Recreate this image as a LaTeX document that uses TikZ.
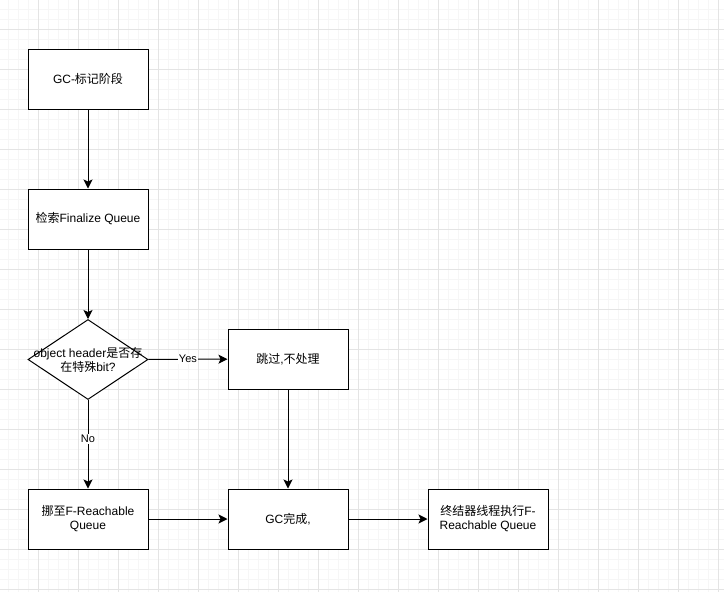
\documentclass[tikz,border=0pt]{standalone}
\usepackage{fontspec}
\setmainfont{Liberation Sans}
\newfontfamily\cjk{Noto Sans CJK SC}
\usetikzlibrary{shapes.geometric,arrows.meta}
\definecolor{gridminor}{HTML}{F6F6F6}
\definecolor{gridmajor}{HTML}{E4E4E4}
\tikzset{
  box/.style={draw=black, line width=1pt, fill=white, minimum width=120pt, minimum height=60pt, inner sep=2pt, align=center, font=\fontsize{12pt}{14pt}\selectfont},
  decide/.style={draw=black, line width=1pt, fill=white, diamond, aspect=1.5, minimum width=120pt, minimum height=80pt, inner sep=0pt, align=center, font=\fontsize{12pt}{14pt}\selectfont},
  conn/.style={draw=black, line width=1pt, -{Stealth[length=9pt,width=9pt,inset=2pt]}},
  lbl/.style={fill=white, inner sep=1pt, font=\fontsize{11pt}{13pt}\selectfont}
}
\begin{document}
\begin{tikzpicture}[x=1pt,y=-1pt]
\useasboundingbox (0,0) rectangle (724,592);
\fill[white] (0,0) rectangle (724,592);
\foreach \x in {8,18,...,718} \draw[gridminor, line width=1pt] (\x,0) -- (\x,592);
\foreach \y in {9,19,...,589} \draw[gridminor, line width=1pt] (0,\y) -- (724,\y);
\foreach \x in {38,78,...,718} \draw[gridmajor, line width=1pt] (\x,0) -- (\x,592);
\foreach \y in {29,69,...,589} \draw[gridmajor, line width=1pt] (0,\y) -- (724,\y);

\node[box] (mark) at (88,79) {GC-{\cjk 标记阶段}};
\node[box] (search) at (88,219) {{\cjk 检索}Finalize Queue};
\node[decide] (check) at (88,359.5) {};
\node[font=\fontsize{12pt}{14pt}\selectfont, align=center, inner sep=0pt] (checktext) at (check.center) {object header{\cjk 是否存}\\{\cjk 在特殊}bit?};
\node[box] (skip) at (288,359) {{\cjk 跳过},{\cjk 不处理}};
\node[box] (move) at (88,519) {{\cjk 挪至}F-Reachable\\Queue};
\node[box] (done) at (288,519) {GC{\cjk 完成},};
\node[box] (final) at (488,519) {{\cjk 终结器线程执行}F-\\Reachable Queue};

\draw[conn] (mark) -- (search);
\draw[conn] (search) -- (check);
\draw[conn] (check) -- node[lbl] {Yes} (skip);
\draw[conn] (check) -- node[lbl, pos=0.44] {No} (move);
\draw[conn] (skip) -- (done);
\draw[conn] (move) -- (done);
\draw[conn] (done) -- (final);
\end{tikzpicture}
\end{document}
